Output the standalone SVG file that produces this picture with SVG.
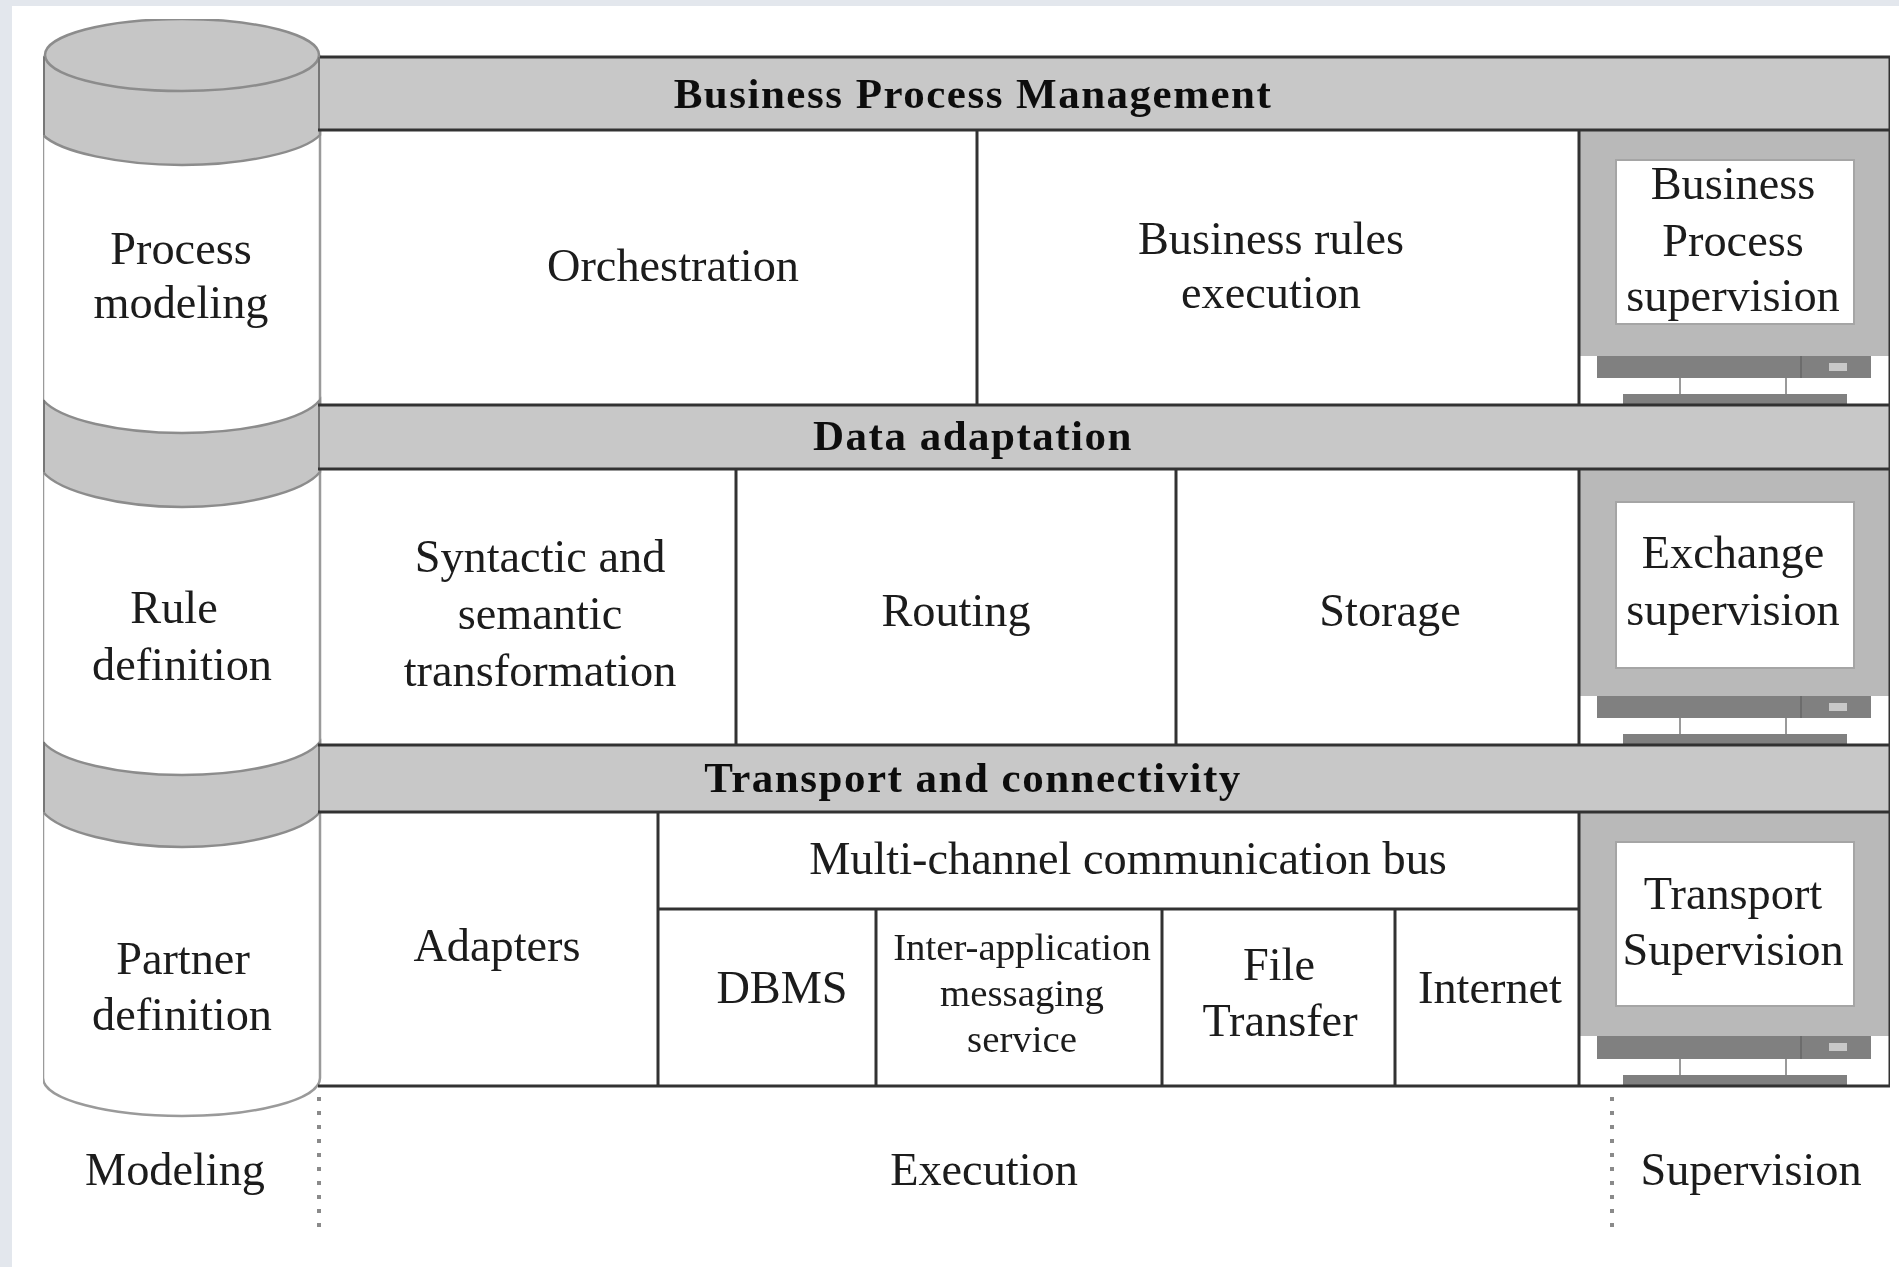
<svg xmlns="http://www.w3.org/2000/svg" width="1899" height="1267" viewBox="0 0 1899 1267">
<style>
text{font-family:"Liberation Serif","Times New Roman",serif;font-size:46.3px;fill:#1a1a1a;text-anchor:middle}
.b{font-weight:bold;font-size:43px;letter-spacing:1.5px;fill:#111}
.s{font-size:38.8px}
.band{fill:#c8c8c8}
.l{stroke:#333;stroke-width:3;fill:none}
.cyl{stroke:#9a9a9a;stroke-width:2.5;fill:#fff}
.cg{fill:#c6c6c6;stroke:#8c8c8c;stroke-width:2.5}
.edge{stroke:#777;stroke-width:4;fill:none}
.mon{fill:#b9b9b9}
.scr{fill:#fff;stroke:#a5a5a5;stroke-width:2}
.dk{fill:#808080}
.lg{stroke:#9a9a9a;stroke-width:2;fill:none}
.dot{stroke:#8a8a8a;stroke-width:4;stroke-dasharray:4 10;fill:none}
</style>
<defs><filter id="soft" x="0" y="0" width="100%" height="100%"><feGaussianBlur stdDeviation="0.7"/></filter></defs>
<rect width="1899" height="1267" fill="#e3e7ed"/>
<rect x="12" y="6" width="1887" height="1261" fill="#fff"/>
<g filter="url(#soft)">
<g id="cylinder">
<path class="cyl" d="M43 60V1078C43 1100 110 1116 182 1116C254 1116 320 1100 320 1078V60Z"/>
<path class="cg" d="M43 57V135C60 152 120 165 182 165C244 165 304 152 320 135V57Z"/>
<ellipse class="cg" cx="182" cy="55" rx="137" ry="36"/>
<path class="cg" d="M43 400C60 420 120 433 182 433C244 433 304 420 320 400V472C304 492 244 507 182 507C120 507 60 492 43 472Z"/>
<path class="cg" d="M43 742C60 762 120 775 182 775C244 775 304 762 320 742V812C304 832 244 847 182 847C120 847 60 832 43 812Z"/>
<path class="edge" d="M43 57V135M43 400V472M43 742V812M320 57V130M320 405V469M320 745V812"/>
</g>
<g id="process-modeling"><text x="181" y="264">Process</text><text x="181" y="318">modeling</text></g>
<g id="rule-definition"><text x="174" y="623">Rule</text><text x="182" y="680">definition</text></g>
<g id="partner-definition"><text x="183" y="974">Partner</text><text x="182" y="1030">definition</text></g>

<g id="band-bpm"><rect class="band" x="320" y="57" width="1570" height="73"/><text class="b" x="973" y="108">Business Process Management</text></g>
<g id="band-data"><rect class="band" x="320" y="405" width="1570" height="64"/><text class="b" x="973" y="450">Data adaptation</text></g>
<g id="band-transport"><rect class="band" x="320" y="745" width="1570" height="67"/><text class="b" x="973" y="792">Transport and connectivity</text></g>

<g id="monitor-1"><rect class="mon" x="1579" y="130" width="311" height="226"/><rect class="scr" x="1616" y="160" width="238" height="164"/>
<path class="lg" d="M1680 378V394M1786 378V394"/><rect class="dk" x="1597" y="356" width="274" height="22"/><rect class="dk" x="1623" y="394" width="224" height="11"/><path d="M1801 356V378" stroke="#6c6c6c" stroke-width="2"/><rect x="1829" y="363" width="18" height="8" fill="#c8c8c8"/>
<text x="1733" y="199">Business</text><text x="1733" y="256">Process</text><text x="1733" y="311">supervision</text></g>
<g id="monitor-2"><rect class="mon" x="1579" y="469" width="311" height="227"/><rect class="scr" x="1616" y="502" width="238" height="166"/>
<path class="lg" d="M1680 718V734M1786 718V734"/><rect class="dk" x="1597" y="696" width="274" height="22"/><rect class="dk" x="1623" y="734" width="224" height="11"/><path d="M1801 696V718" stroke="#6c6c6c" stroke-width="2"/><rect x="1829" y="703" width="18" height="8" fill="#c8c8c8"/>
<text x="1733" y="568">Exchange</text><text x="1733" y="625">supervision</text></g>
<g id="monitor-3"><rect class="mon" x="1579" y="812" width="311" height="224"/><rect class="scr" x="1616" y="842" width="238" height="164"/>
<path class="lg" d="M1680 1059V1075M1786 1059V1075"/><rect class="dk" x="1597" y="1036" width="274" height="23"/><rect class="dk" x="1623" y="1075" width="224" height="11"/><path d="M1801 1036V1059" stroke="#6c6c6c" stroke-width="2"/><rect x="1829" y="1043" width="18" height="8" fill="#c8c8c8"/>
<text x="1733" y="909">Transport</text><text x="1733" y="965">Supervision</text></g>

<g id="connectors">
<path class="l" d="M320 57H1890V1086H318M318 130H1890M318 405H1890M318 469H1890M318 745H1890M318 812H1890M658 909H1579"/>
<path class="l" d="M977 130V405M736 469V745M1176 469V745M658 812V1086M876 909V1086M1162 909V1086M1395 909V1086M1579 130V405M1579 469V745M1579 812V1086"/>
<path class="dot" d="M319 1097V1230M1612 1097V1230"/>
</g>

<g id="orchestration"><text x="673" y="281">Orchestration</text></g>
<g id="business-rules"><text x="1271" y="254">Business rules</text><text x="1271" y="308">execution</text></g>
<g id="transformation"><text x="540" y="572">Syntactic and</text><text x="540" y="629">semantic</text><text x="540" y="686">transformation</text></g>
<g id="routing"><text x="956" y="626">Routing</text></g>
<g id="storage"><text x="1390" y="626">Storage</text></g>
<g id="adapters"><text x="497" y="961">Adapters</text></g>
<g id="bus"><text x="1128" y="874">Multi-channel communication bus</text></g>
<g id="dbms"><text x="782" y="1003">DBMS</text></g>
<g id="messaging"><text class="s" x="1022" y="960">Inter-application</text><text class="s" x="1022" y="1006">messaging</text><text class="s" x="1022" y="1052">service</text></g>
<g id="file-transfer"><text x="1279" y="980">File</text><text x="1280" y="1036">Transfer</text></g>
<g id="internet"><text x="1490" y="1003">Internet</text></g>
<g id="col-modeling"><text x="175" y="1185">Modeling</text></g>
<g id="col-execution"><text x="984" y="1185">Execution</text></g>
<g id="col-supervision"><text x="1751" y="1185">Supervision</text></g>
</g>
</svg>
